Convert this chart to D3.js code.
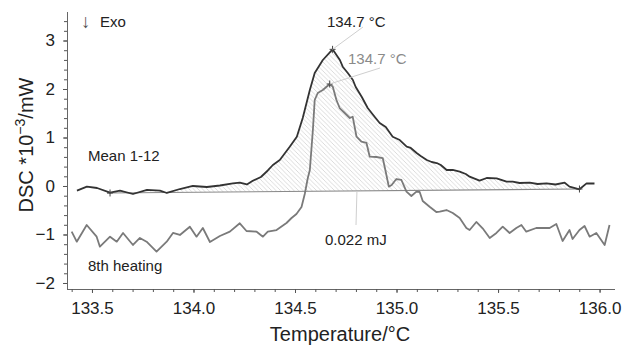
<!DOCTYPE html>
<html>
<head>
<meta charset="utf-8">
<script src="https://cdn.jsdelivr.net/npm/d3@7"></script>
<style>
  body { margin: 0; background: #fff; }
  svg text { font-family: "Liberation Sans", Arial, sans-serif; }
</style>
</head>
<body>
<svg id="chart" width="623" height="345"></svg>
<script>
// Mean 1-12 curve (temperature °C, DSC *10^-3 mW)
const meanT = [133.426, 133.475, 133.525, 133.589, 133.638, 133.702, 133.771, 133.835, 133.869, 133.933,
  133.997, 134.066, 134.130, 134.194, 134.228, 134.263, 134.292, 134.332, 134.366, 134.391,
  134.425, 134.474, 134.509, 134.538, 134.573, 134.597, 134.637, 134.685, 134.721, 134.735,
  134.760, 134.785, 134.799, 134.829, 134.858, 134.893, 134.917, 134.947, 134.981, 135.016,
  135.050, 135.070, 135.099, 135.119, 135.149, 135.173, 135.198, 135.218, 135.247, 135.277,
  135.311, 135.341, 135.360, 135.409, 135.444, 135.493, 135.542, 135.572, 135.606, 135.656,
  135.695, 135.739, 135.783, 135.828, 135.852, 135.901, 135.936, 135.975];
const meanD = [-0.097, -0.014, -0.041, -0.138, -0.097, -0.165, -0.082, -0.097, -0.144, -0.062,
  0.000, -0.021, 0.010, 0.052, 0.068, 0.031, 0.109, 0.186, 0.320, 0.433,
  0.536, 0.810, 1.016, 1.402, 1.979, 2.330, 2.598, 2.818, 2.598, 2.460,
  2.330, 2.186, 2.041, 1.835, 1.608, 1.423, 1.299, 1.216, 1.016, 0.948,
  0.811, 0.784, 0.680, 0.619, 0.536, 0.495, 0.474, 0.433, 0.330, 0.330,
  0.295, 0.247, 0.192, 0.110, 0.165, 0.158, 0.089, 0.089, 0.062, 0.068,
  0.041, 0.055, 0.031, 0.068, -0.014, -0.068, 0.055, 0.052];

// 8th heating curve
const heatT = [133.400, 133.425, 133.474, 133.523, 133.539, 133.589, 133.622, 133.653, 133.702, 133.736,
  133.769, 133.818, 133.868, 133.899, 133.933, 133.982, 134.015, 134.046, 134.081, 134.130,
  134.179, 134.228, 134.261, 134.311, 134.342, 134.366, 134.409, 134.458, 134.483, 134.507,
  134.532, 134.548, 134.563, 134.573, 134.588, 134.597, 134.612, 134.637, 134.671, 134.686,
  134.704, 134.720, 134.745, 134.770, 134.784, 134.803, 134.827, 134.852, 134.868, 134.901,
  134.932, 134.947, 134.962, 134.976, 134.999, 135.024, 135.049, 135.073, 135.098, 135.114,
  135.129, 135.163, 135.196, 135.213, 135.246, 135.277, 135.311, 135.344, 135.360, 135.393,
  135.424, 135.459, 135.492, 135.523, 135.557, 135.590, 135.615, 135.639, 135.688, 135.754,
  135.787, 135.818, 135.852, 135.867, 135.901, 135.926, 135.951, 135.984, 136.025, 136.049];
const heatD = [-0.942, -1.148, -0.804, -1.045, -1.251, -1.045, -1.148, -0.969, -1.216, -1.072,
  -1.148, -1.354, -1.148, -0.969, -1.010, -0.839, -1.045, -0.866, -1.155, -1.031,
  -0.942, -0.769, -0.928, -0.942, -1.045, -0.942, -0.908, -0.763, -0.660, -0.577,
  -0.433, -0.165, 0.165, 0.330, 1.155, 1.773, 1.918, 1.979, 2.103, 2.048,
  1.773, 1.608, 1.505, 1.402, 1.429, 1.016, 0.913, 0.887, 0.604, 0.598,
  0.577, 0.289, -0.014, 0.021, 0.144, 0.124, -0.117, -0.206, -0.117, -0.124,
  -0.309, -0.427, -0.536, -0.530, -0.495, -0.557, -0.660, -0.866, -0.907, -0.742,
  -0.873, -1.072, -0.969, -0.839, -0.969, -0.866, -0.804, -0.942, -0.866, -0.866,
  -0.784, -1.134, -0.907, -1.093, -0.907, -0.825, -1.045, -0.969, -1.216, -0.804];

// integration baseline end points
const baseT = [133.589, 135.901];
const baseD = [-0.144, -0.062];

const peakT = [134.685, 134.671];
const peakD = [2.818, 2.103];
const peakLabels = ['134.7 °C', '134.7 °C'];

const xTicks = [133.5, 134.0, 134.5, 135.0, 135.5, 136.0];
const yTicks = [-2, -1, 0, 1, 2, 3];

const svg = d3.select('#chart');
const plotLeft = 67, plotRight = 615, plotTop = 12, plotBottom = 289;

const x = d3.scaleLinear().domain([133.377, 136.076]).range([plotLeft, plotRight]);
const y = d3.scaleLinear().domain([-2.124, 3.588]).range([plotBottom, plotTop]);

// hatch pattern, light diagonal lines
const defs = svg.append('defs');
defs.append('pattern')
  .attr('id', 'hatch')
  .attr('patternUnits', 'userSpaceOnUse')
  .attr('width', 4.5).attr('height', 4.5)
  .append('path')
  .attr('d', 'M-1,-1 L5.5,5.5 M-1,3.5 L1,5.5 M3.5,-1 L5.5,1')
  .attr('stroke', '#cdcdcd')
  .attr('stroke-width', 0.7);

// axes
const xAxis = d3.axisBottom(x)
  .tickValues(d3.range(133.4, 136.05, 0.1))
  .tickSize(3)
  .tickFormat('');
svg.append('g').attr('transform', `translate(0,${plotBottom})`).call(xAxis)
  .call(g => g.select('.domain').attr('d', `M${plotLeft},0.5H${plotRight}`));
const xAxisMajor = d3.axisBottom(x).tickValues(xTicks).tickSize(4).tickPadding(9)
  .tickFormat(d3.format('.1f'));
svg.append('g').attr('transform', `translate(0,${plotBottom})`).call(xAxisMajor)
  .call(g => g.select('.domain').remove());

const yAxis = d3.axisLeft(y)
  .tickValues(d3.range(-2, 3.59, 0.2))
  .tickSize(3)
  .tickFormat('');
svg.append('g').attr('transform', `translate(${plotLeft},0)`).call(yAxis)
  .call(g => g.select('.domain').attr('d', `M0.5,${plotTop}V${plotBottom}`));
const yAxisMajor = d3.axisLeft(y).tickValues(yTicks).tickSize(4).tickPadding(8)
  .tickFormat(d => d < 0 ? '\u2212' + Math.abs(d) : d);
svg.append('g').attr('transform', `translate(${plotLeft},0)`).call(yAxisMajor)
  .call(g => g.select('.domain').remove());

svg.selectAll('.tick line').attr('stroke', '#555');
svg.selectAll('.domain').attr('stroke', '#666');
svg.selectAll('.tick text').attr('font-size', 17).attr('fill', '#222')
  .style('font-family', '"Liberation Sans", Arial, sans-serif');

// hatched integral area
const baseAt = d3.scaleLinear().domain(baseT).range(baseD);
const meanPts = meanT.map((t, i) => [t, meanD[i]]);
const meanAt = d3.scaleLinear().domain(meanT).range(meanD);
const areaPts = [[baseT[0], meanAt(baseT[0])]]
  .concat(meanPts.filter(p => p[0] > baseT[0] && p[0] < baseT[1]))
  .concat([[baseT[1], meanAt(baseT[1])]]);
svg.append('path')
  .datum(areaPts)
  .attr('fill', 'url(#hatch)')
  .attr('d', d3.area().x(d => x(d[0])).y0(d => y(baseAt(d[0]))).y1(d => y(d[1])));

// baseline
svg.append('line')
  .attr('x1', x(baseT[0]) - 3).attr('y1', y(baseD[0]))
  .attr('x2', x(baseT[1])).attr('y2', y(baseD[1]))
  .attr('stroke', '#8a8a8a').attr('stroke-width', 1.2);

const line = d3.line().x(d => x(d[0])).y(d => y(d[1]));

svg.append('path')
  .datum(heatT.map((t, i) => [t, heatD[i]]))
  .attr('fill', 'none')
  .attr('stroke', '#7a7a7a')
  .attr('stroke-width', 1.8)
  .attr('stroke-linejoin', 'round')
  .attr('d', line);

svg.append('path')
  .datum(meanPts)
  .attr('fill', 'none')
  .attr('stroke', '#333')
  .attr('stroke-width', 1.8)
  .attr('stroke-linejoin', 'round')
  .attr('d', line);

// crosses on peaks and baseline limits
const crosses = [[peakT[0], peakD[0]], [peakT[1], peakD[1]], [baseT[0], baseD[0]], [baseT[1], baseD[1]]];
svg.selectAll('.cross')
  .data(crosses)
  .enter()
  .append('path')
  .attr('class', 'cross')
  .attr('d', d => `M${x(d[0]) - 3},${y(d[1])}h6M${x(d[0])},${y(d[1]) - 3.5}v7`)
  .attr('stroke', '#444')
  .attr('stroke-width', 1);

// leader lines
const leaders = [
  [x(peakT[0]), y(peakD[0]), 363, 27],
  [x(peakT[1]), y(peakD[1]), 380, 68],
  [x(134.805), y(baseAt(134.805)), 356, 225]
];
svg.selectAll('.leader')
  .data(leaders)
  .enter()
  .append('line')
  .attr('class', 'leader')
  .attr('x1', d => d[0]).attr('y1', d => d[1])
  .attr('x2', d => d[2]).attr('y2', d => d[3])
  .attr('stroke', '#cfcfcf').attr('stroke-width', 1);

// labels
const addText = (t, px, py, opts = {}) => svg.append('text')
  .attr('x', px).attr('y', py)
  .attr('font-size', opts.size || 15)
  .attr('fill', opts.fill || '#222')
  .attr('text-anchor', opts.anchor || 'start')
  .text(t);

addText('\u2193', 81, 28, { size: 19, fill: '#555' });
addText('Exo', 100, 27);
addText('Mean 1-12', 88, 161);
addText('8th heating', 88, 271);
addText(peakLabels[0], 327, 27);
addText(peakLabels[1], 348, 64, { fill: '#8a8a8a' });
addText('0.022 mJ', 325, 245);

// axis titles
svg.append('text')
  .attr('x', 340).attr('y', 341)
  .attr('text-anchor', 'middle')
  .attr('font-size', 20)
  .attr('fill', '#222')
  .text('Temperature/°C');

const yTitle = svg.append('text')
  .attr('transform', 'translate(33,145) rotate(-90)')
  .attr('text-anchor', 'middle')
  .attr('font-size', 20)
  .attr('fill', '#222');
yTitle.append('tspan').text('DSC *10');
yTitle.append('tspan').attr('dy', -8).attr('font-size', 14).text('\u22123');
yTitle.append('tspan').attr('dy', 8).text('/mW');
</script>
</body>
</html>
